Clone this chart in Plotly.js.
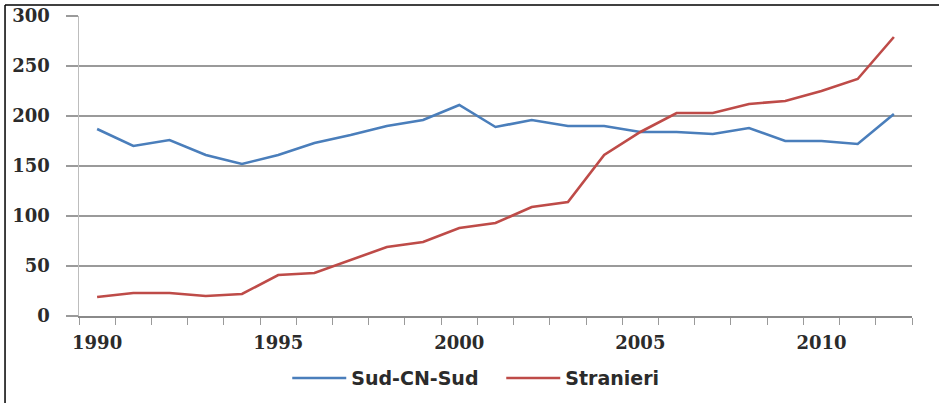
<!DOCTYPE html>
<html>
<head>
<meta charset="utf-8">
<script src="https://cdn.plot.ly/plotly-3.0.1.min.js"></script>
<style>
  html, body { margin: 0; padding: 0; background: #fff; }
  #chart { width: 939px; height: 403px; }
</style>
</head>
<body>
<div id="chart"></div>
<script>
// ---- Data ----
var years = [1990, 1991, 1992, 1993, 1994, 1995, 1996, 1997, 1998, 1999, 2000, 2001,
             2002, 2003, 2004, 2005, 2006, 2007, 2008, 2009, 2010, 2011, 2012];
var sudCNSud = [187, 170, 176, 161, 152, 161, 173, 181, 190, 196, 211, 189,
                196, 190, 190, 184, 184, 182, 188, 175, 175, 172, 202];
var stranieri = [19, 23, 23, 20, 22, 41, 43, 56, 69, 74, 88, 93,
                 109, 114, 161, 184, 203, 203, 212, 215, 225, 237, 279];
var seriesNames = ['Sud-CN-Sud', 'Stranieri'];
var xTickVals = [1990, 1995, 2000, 2005, 2010];
var xTickText = ['1990', '1995', '2000', '2005', '2010'];
var yTickVals = [0, 50, 100, 150, 200, 250, 300];

var tickFont = { family: 'DejaVu Serif', size: 18, color: '#2b2b2b', weight: 'bold' };

var traces = [
  { x: years, y: sudCNSud, name: seriesNames[0], type: 'scatter', mode: 'lines',
    line: { color: '#4a7ebb', width: 2.6 } },
  { x: years, y: stranieri, name: seriesNames[1], type: 'scatter', mode: 'lines',
    line: { color: '#be4b48', width: 2.6 } }
];

var layout = {
  width: 939, height: 403,
  margin: { l: 79, r: 27, t: 16, b: 87, autoexpand: false },
  paper_bgcolor: '#ffffff', plot_bgcolor: '#ffffff',
  showlegend: true,
  legend: {
    orientation: 'h', x: 0.25, xanchor: 'left', y: -0.207, yanchor: 'middle',
    font: { family: 'DejaVu Sans', size: 19, color: '#2b2b2b', weight: 'bold' },
    itemwidth: 54, entrywidth: 145, bgcolor: 'rgba(0,0,0,0)'
  },
  xaxis: {
    range: [1989.5, 2012.5], tickmode: 'array', tickvals: xTickVals, ticktext: xTickText,
    ticks: '', showgrid: false, zeroline: false, showline: true, linecolor: '#8a8a8a', linewidth: 1.5,
    tickfont: tickFont, ticklabelstandoff: 10,
    minor: { tickmode: 'linear', tick0: 1989.5, dtick: 1, ticks: 'outside', ticklen: 7,
             tickcolor: '#9a9a9a', tickwidth: 1, showgrid: false }
  },
  yaxis: {
    range: [0, 300], tickmode: 'array', tickvals: yTickVals,
    ticks: 'outside', ticklen: 12, tickcolor: '#9a9a9a', tickwidth: 1.5,
    showgrid: true, gridcolor: '#9a9a9a', gridwidth: 1.5,
    zeroline: false, showline: true, linecolor: '#bdbdbd', linewidth: 1.5,
    tickfont: tickFont, ticklabelstandoff: 12
  },
  shapes: [
    { type: 'line', xref: 'paper', yref: 'paper', x0: -0.0888, x1: -0.0888, y0: 1.0367, y1: -0.32,
      line: { color: '#000', width: 1.5 } },
    { type: 'line', xref: 'paper', yref: 'paper', x0: -0.0888, x1: 1.05, y0: 1.0367, y1: 1.0367,
      line: { color: '#000', width: 1.5 } }
  ]
};

Plotly.newPlot('chart', traces, layout, { staticPlot: true, displayModeBar: false });
</script>
</body>
</html>
